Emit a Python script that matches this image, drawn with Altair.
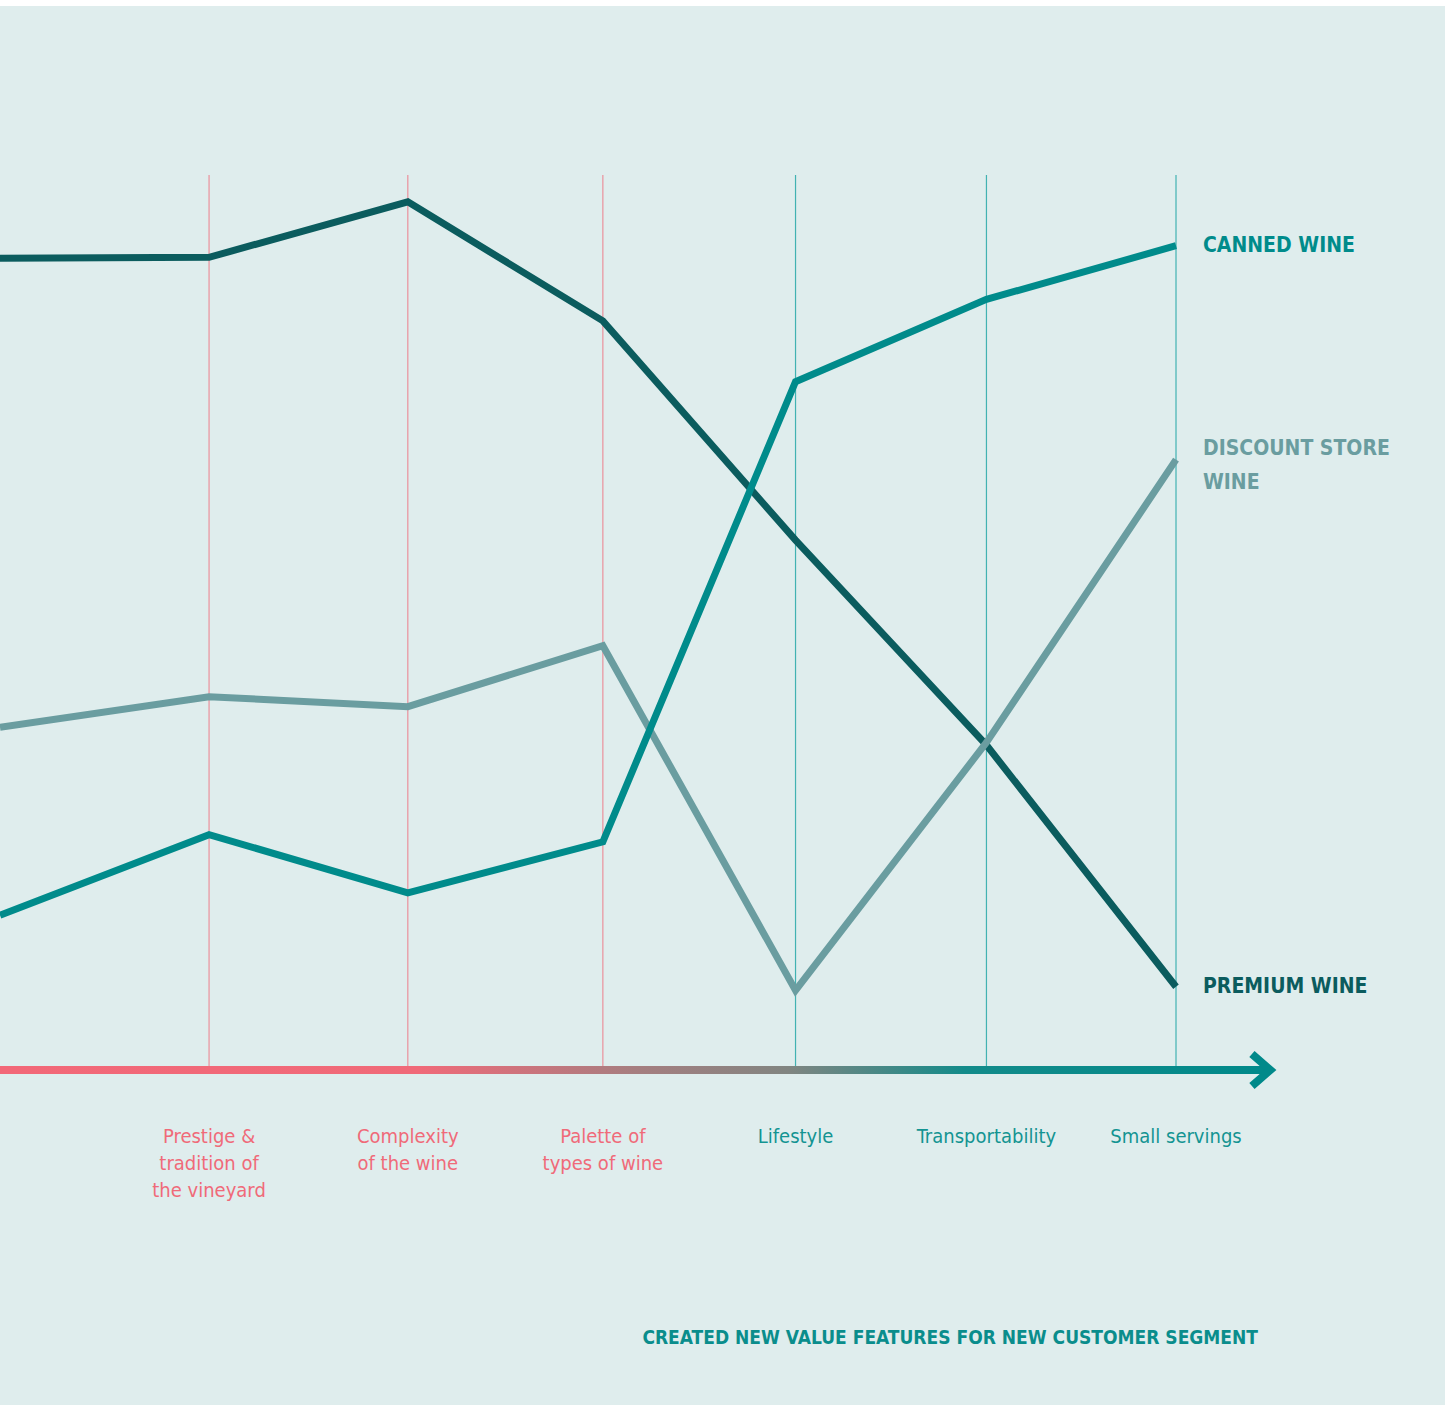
import altair as alt
import pandas as pd

# ---- data ----
categories = ["", "Prestige &\ntradition of\nthe vineyard", "Complexity\nof the wine",
              "Palette of\ntypes of wine", "Lifestyle", "Transportability", "Small servings"]
feature_group = ["old", "old", "old", "old", "new", "new", "new"]
series_names = ["PREMIUM WINE", "DISCOUNT STORE\nWINE", "CANNED WINE"]
premium = [9.07, 9.08, 9.70, 8.37, 5.92, 3.63, 0.93]
discount = [3.83, 4.17, 4.06, 4.74, 0.89, 3.66, 6.82]
canned = [1.73, 2.63, 1.98, 2.55, 7.69, 8.61, 9.21]
footer = "CREATED NEW VALUE FEATURES FOR NEW CUSTOMER SEGMENT"

rows = []
for name, vals in zip(series_names, [premium, discount, canned]):
    for i, v in enumerate(vals):
        rows.append({"idx": i, "value": v, "series": name})
lines_df = pd.DataFrame(rows)
cat_df = pd.DataFrame({"idx": list(range(len(categories))), "label": categories,
                       "group": feature_group})
old_df = cat_df[(cat_df["idx"] > 0) & (cat_df["group"] == "old")]
new_df = cat_df[cat_df["group"] == "new"]
last_df = lines_df[lines_df["idx"] == 6]
single_line = last_df[~last_df["series"].str.contains("\n")]
multi_line = last_df[last_df["series"].str.contains("\n")]

BG = "#dfeded"
PINK = "#f06a79"
TEAL = "#0a8d8c"
FONT = "DejaVu Sans Condensed, sans-serif"

# slightly compressive scale mimics the uneven spacing of the original columns
xs = alt.Scale(type="pow", exponent=0.964, domain=[0, 6], range=[0, 1176])
ys = alt.Scale(domain=[0, 10], range=[1064, 169])
series_color = alt.Scale(domain=series_names, range=["#0b5c5e", "#6a9da0", "#008b8b"])


def grid_layer(df, color, op):
    return alt.Chart(df).mark_rule(strokeWidth=1.2, opacity=op, color=color).encode(
        x=alt.X("idx:Q", scale=xs, axis=None),
        y=alt.datum(10, scale=ys, axis=None),
        y2=alt.datum(0),
    )


def label_layer(df, color):
    return alt.Chart(df).mark_text(
        align="center", baseline="top", dy=57, fontSize=20, font=FONT,
        lineBreak="\n", lineHeight=27, color=color,
    ).encode(
        x=alt.X("idx:Q", scale=xs, axis=None),
        y=alt.datum(0, scale=ys, axis=None),
        text="label:N",
    )


def end_label_layer(df, dy):
    return alt.Chart(df).mark_text(
        align="left", baseline="middle", dx=27, dy=dy, fontSize=21, fontWeight="bold",
        font=FONT, lineBreak="\n", lineHeight=34,
    ).encode(
        x=alt.X("idx:Q", scale=xs, axis=None),
        y=alt.Y("value:Q", scale=ys, axis=None),
        text="series:N",
        color=alt.Color("series:N", scale=series_color, legend=None),
    )


grad = alt.LinearGradient(
    gradient="linear", x1=0, x2=1, y1=0, y2=0,
    stops=[alt.GradientStop(offset=0, color="#f26878"),
           alt.GradientStop(offset=0.33, color="#f06a79"),
           alt.GradientStop(offset=0.5, color="#a67e80"),
           alt.GradientStop(offset=0.62, color="#818581"),
           alt.GradientStop(offset=0.76, color="#128b8a"),
           alt.GradientStop(offset=1, color="#00898a")])

one = pd.DataFrame({"a": [0]})

axis_bar = alt.Chart(one).mark_rect(color=grad).encode(
    x=alt.datum(0, scale=xs, axis=None),
    x2=alt.datum(6.5),
    y=alt.datum(-0.045, scale=ys, axis=None),
    y2=alt.datum(0.045),
)

arrow = alt.Chart(one).mark_point(
    shape="M-1.15,-1L0,0L-1.15,1", filled=False, strokeWidth=8, size=1024,
    color="#00898a", opacity=1, strokeJoin="miter", strokeCap="butt",
).encode(x=alt.datum(6.5, scale=xs, axis=None), y=alt.datum(0, scale=ys, axis=None))

lines = alt.Chart(lines_df).mark_line(strokeWidth=7, clip=True).encode(
    x=alt.X("idx:Q", scale=xs, axis=None),
    y=alt.Y("value:Q", scale=ys, axis=None),
    color=alt.Color("series:N", scale=series_color, legend=None),
    order=alt.Order("idx:Q"),
)

title = alt.Chart(pd.DataFrame({"t": [footer]})).mark_text(
    align="right", baseline="middle", fontSize=19, fontWeight="bold", font=FONT, color=TEAL,
).encode(x=alt.value(1258), y=alt.value(1332), text="t:N")

chart = alt.layer(
    grid_layer(old_df, PINK, 0.7), grid_layer(new_df, "#1aa3a3", 0.8),
    axis_bar, arrow, lines,
    end_label_layer(single_line, 0), end_label_layer(multi_line, -11),
    label_layer(old_df, PINK), label_layer(new_df, "#139492"), title,
).properties(
    width=1445, height=1399,
    padding={"left": 0, "top": 6, "right": 9, "bottom": 4},
    autosize=alt.AutoSizeParams(type="none"),
    background="white",
).configure_view(stroke=None, fill=BG)

chart.save("out.html", embed_options={"renderer": "svg", "actions": False})
